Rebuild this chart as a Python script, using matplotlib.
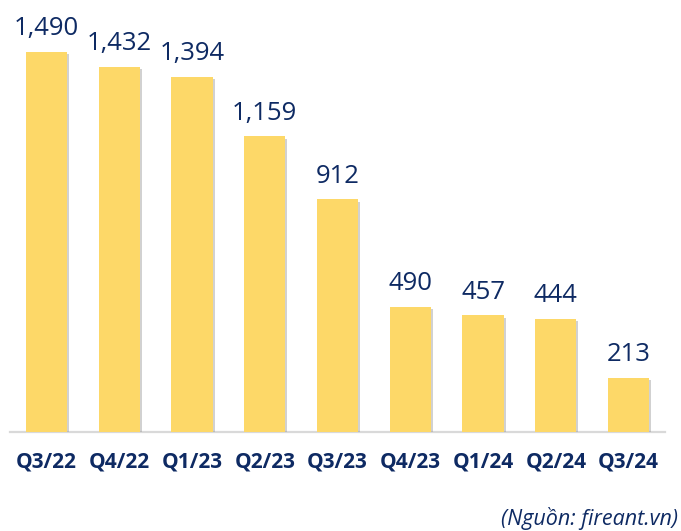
import matplotlib
matplotlib.use("Agg")
import matplotlib.pyplot as plt
import matplotlib.patheffects as pe

categories = ["Q3/22", "Q4/22", "Q1/23", "Q2/23", "Q3/23", "Q4/23", "Q1/24", "Q2/24", "Q3/24"]
values = [1490, 1432, 1394, 1159, 912, 490, 457, 444, 213]
source_text = "(Nguồn: fireant.vn)"

bar_color = "#FDD868"
text_color = "#0E2A63"

fig = plt.figure(figsize=(6.81, 5.31), dpi=100)
ax = fig.add_axes([10 / 681, 99 / 531, 655 / 681, 422 / 531])

x = list(range(len(categories)))
bars = ax.bar(x, values, width=0.565, color=bar_color, zorder=3)
for b in bars:
    b.set_path_effects([pe.SimplePatchShadow(offset=(1.5, -1.5), shadow_rgbFace="#999999", alpha=0.45),
                        pe.Normal()])

for xi, v in zip(x, values):
    ax.annotate(f"{v:,}", (xi, v), xytext=(0, 12), textcoords="offset points",
                ha="center", va="baseline", fontsize=18.5, color=text_color,
                family=["Open Sans", "DejaVu Sans"])

ax.set_xlim(-0.5, 8.5)
ax.set_ylim(0, 1655)
ax.set_yticks([])
ax.set_xticks(x)
ax.set_xticklabels(categories, fontsize=15, fontweight="bold", color=text_color,
                   family=["Open Sans", "DejaVu Sans"])
ax.tick_params(axis="x", length=0, pad=14)
for s in ["top", "right", "left"]:
    ax.spines[s].set_visible(False)
ax.spines["bottom"].set_color("#D9D9D9")
ax.spines["bottom"].set_linewidth(1.6)
ax.spines["bottom"].set_zorder(2)

fig.text(678 / 681, 1 - 518 / 531, source_text, fontsize=15.5, style="italic",
         color=text_color, ha="right", va="center", family=["Open Sans", "DejaVu Sans"])

fig.savefig("out.png", dpi=100)
